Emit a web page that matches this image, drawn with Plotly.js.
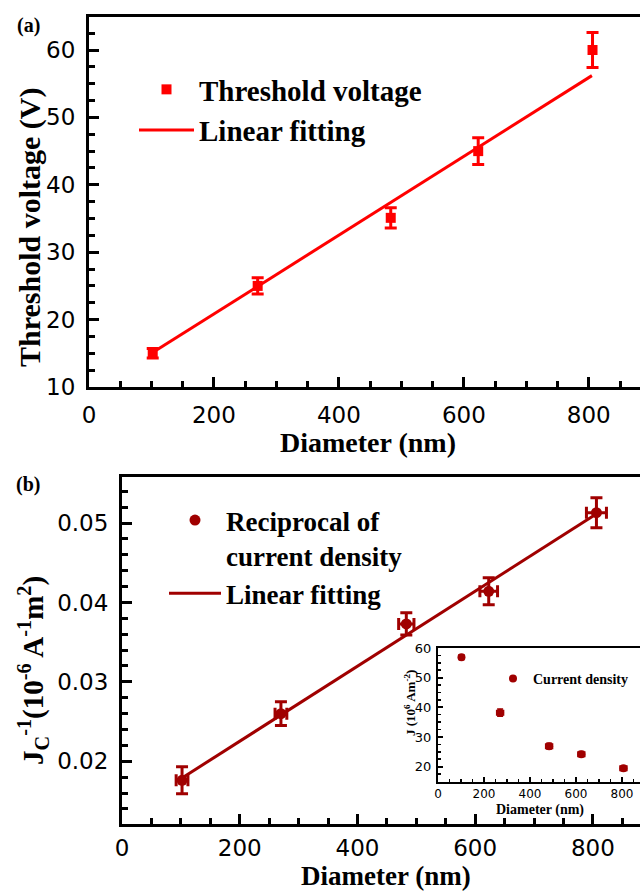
<!DOCTYPE html>
<html>
<head>
<meta charset="utf-8">
<script src="https://cdn.plot.ly/plotly-3.0.1.min.js"></script>
<style>html,body{margin:0;padding:0;background:#fff;}#chart{width:640px;height:892px;}</style>
</head>
<body>
<div id="chart"></div>
<script>
// ---- data ----
const diameter = [102, 270, 483, 623, 806];
const thresholdV = [15.0, 25.0, 35.1, 45.0, 60.0];
const thresholdErr = [0.7, 1.2, 1.5, 2.0, 2.6];
const fitA_x = [100, 805];
const fitA_y = [15.0, 56.2];

const recipJ = [0.0176, 0.0260, 0.0373, 0.0414, 0.0513];
const recipJErr = [0.0017, 0.0015, 0.0014, 0.0017, 0.0019];
const diamErrB = [10, 10, 13, 15, 17];
const fitB_x = [100, 807];
const fitB_y = [0.0178, 0.0512];

const currentJ = [56.9, 38.2, 26.9, 24.2, 19.4];
const currentJErr = [0.8, 1.2, 1.0, 0.9, 0.8];
const diamErrInset = [8, 15, 15, 15, 15];

const xTickVals = [0, 200, 400, 600, 800];

// ---- styling ----
const RED = '#FF0000';
const DRED = '#A00000';
const W = 640, H = 892;
const px = v => v / W;
const py = v => 1 - v / H;
const tickFont = {family: 'DejaVu Sans', size: 23, color: '#000'};
const serifB = (s) => ({family: 'Liberation Serif', size: s, color: '#000', weight: 'bold'});

const traces = [
  {x: diameter, y: thresholdV, type: 'scatter', mode: 'markers', name: 'Threshold voltage',
   xaxis: 'x', yaxis: 'y', legend: 'legend',
   marker: {symbol: 'square', size: 10, color: RED},
   error_y: {type: 'data', array: thresholdErr, visible: true, color: RED, thickness: 3, width: 6}},
  {x: fitA_x, y: fitA_y, type: 'scatter', mode: 'lines', name: 'Linear fitting',
   xaxis: 'x', yaxis: 'y', legend: 'legend',
   line: {color: RED, width: 3}},
  {x: diameter, y: recipJ, type: 'scatter', mode: 'markers', name: 'Reciprocal of<br>current density',
   xaxis: 'x2', yaxis: 'y2', legend: 'legend2',
   marker: {symbol: 'circle', size: 11, color: DRED},
   error_y: {type: 'data', array: recipJErr, visible: true, color: DRED, thickness: 3, width: 6},
   error_x: {type: 'data', array: diamErrB, visible: true, color: DRED, thickness: 3, width: 6}},
  {x: fitB_x, y: fitB_y, type: 'scatter', mode: 'lines', name: 'Linear fitting',
   xaxis: 'x2', yaxis: 'y2', legend: 'legend2',
   line: {color: DRED, width: 3}},
  {x: diameter, y: currentJ, type: 'scatter', mode: 'markers', name: 'Current density',
   xaxis: 'x3', yaxis: 'y3', legend: 'legend3',
   marker: {symbol: 'circle', size: 8, color: DRED},
   error_y: {type: 'data', array: currentJErr, visible: true, color: DRED, thickness: 1.5, width: 3},
   error_x: {type: 'data', array: diamErrInset, visible: true, color: DRED, thickness: 1.5, width: 3}}
];

const baseAxis = {
  showline: true, linecolor: '#000', showgrid: false, zeroline: false,
  ticks: 'inside', tickcolor: '#000', fixedrange: true
};

function ann(text, x, y, size, angle) {
  return {text: text, x: px(x), y: py(y), xref: 'paper', yref: 'paper', showarrow: false,
          xanchor: 'center', yanchor: 'middle', textangle: angle || 0, font: serifB(size)};
}

const layout = {
  width: W, height: H,
  margin: {l: 0, r: 0, t: 0, b: 0},
  paper_bgcolor: '#fff', plot_bgcolor: 'rgba(0,0,0,0)',
  xaxis: Object.assign({}, baseAxis, {
    domain: [px(89), 1], range: [0, 882], anchor: 'y',
    linewidth: 3, mirror: true, ticklen: 10, tickwidth: 3,
    tickvals: xTickVals, tickfont: tickFont, ticklabelstandoff: 5,
    minor: {dtick: 50, ticklen: 6, tickwidth: 3, ticks: 'inside', tickcolor: '#000'}
  }),
  yaxis: Object.assign({}, baseAxis, {
    domain: [py(387), py(17)], range: [10, 64.9], anchor: 'x',
    linewidth: 3, mirror: false, ticklen: 10, tickwidth: 3,
    dtick: 10, tick0: 0, tickfont: tickFont, ticklabelstandoff: 6,
    minor: {dtick: 2.5, ticklen: 6, tickwidth: 3, ticks: 'inside', tickcolor: '#000'}
  }),
  xaxis2: Object.assign({}, baseAxis, {
    domain: [px(122), 1], range: [0, 880], anchor: 'y2',
    linewidth: 3, mirror: true, ticklen: 10, tickwidth: 3,
    tickvals: xTickVals, tickfont: tickFont, ticklabelstandoff: 1,
    minor: {dtick: 50, ticklen: 6, tickwidth: 3, ticks: 'inside', tickcolor: '#000'}
  }),
  yaxis2: Object.assign({}, baseAxis, {
    domain: [py(824), py(477)], range: [0.0121, 0.0558], anchor: 'x2',
    linewidth: 3, mirror: false, ticklen: 10, tickwidth: 3,
    dtick: 0.01, tick0: 0, tickformat: '.2f', tickfont: tickFont, ticklabelstandoff: 6,
    minor: {dtick: 0.002, ticklen: 6, tickwidth: 3, ticks: 'inside', tickcolor: '#000'}
  }),
  xaxis3: Object.assign({}, baseAxis, {
    domain: [px(438), 1], range: [0, 878], anchor: 'y3',
    linewidth: 2, mirror: true, ticklen: 5, tickwidth: 2,
    tickvals: xTickVals, tickfont: {family: 'DejaVu Sans', size: 12, color: '#000'}, ticklabelstandoff: 0,
    minor: {dtick: 50, ticklen: 3, tickwidth: 1.5, ticks: 'inside', tickcolor: '#000'}
  }),
  yaxis3: Object.assign({}, baseAxis, {
    domain: [py(782), py(648)], range: [14.8, 60], anchor: 'x3',
    linewidth: 2, mirror: false, ticklen: 5, tickwidth: 2,
    dtick: 10, tick0: 0, tickfont: {family: 'DejaVu Sans', size: 13, color: '#000'}, ticklabelstandoff: 2,
    minor: {dtick: 2.5, ticklen: 3, tickwidth: 1.5, ticks: 'inside', tickcolor: '#000'}
  }),
  showlegend: true,
  legend: {x: px(134), y: py(64), xanchor: 'left', yanchor: 'top', bgcolor: 'rgba(0,0,0,0)',
           font: serifB(29), itemwidth: 55, itemclick: false},
  legend2: {x: px(164), y: py(496), xanchor: 'left', yanchor: 'top', bgcolor: 'rgba(0,0,0,0)',
            font: serifB(27), valign: 'top', itemwidth: 52, itemclick: false},
  legend3: {x: px(493), y: py(663), xanchor: 'left', yanchor: 'top', bgcolor: 'rgba(0,0,0,0)',
            font: serifB(14), itemclick: false},
  annotations: [
    ann('(a)', 28, 26, 20),
    ann('(b)', 28, 484, 20),
    ann('Threshold voltage (V)', 30, 228, 30, -90),
    ann('Diameter (nm)', 368, 442, 28),
    ann('J<sub>C</sub><sup>-1</sup>(10<sup>-6</sup> A<sup>-1</sup>m<sup>2</sup>)', 33, 671, 29, -90),
    ann('Diameter (nm)', 386, 876, 27),
    ann('J (10<sup>6</sup> Am<sup>-2</sup>)', 410, 703, 13, -90),
    ann('Diameter (nm)', 540, 810, 14)
  ]
};

Plotly.newPlot('chart', traces, layout, {staticPlot: true, displayModeBar: false});
</script>
</body>
</html>
